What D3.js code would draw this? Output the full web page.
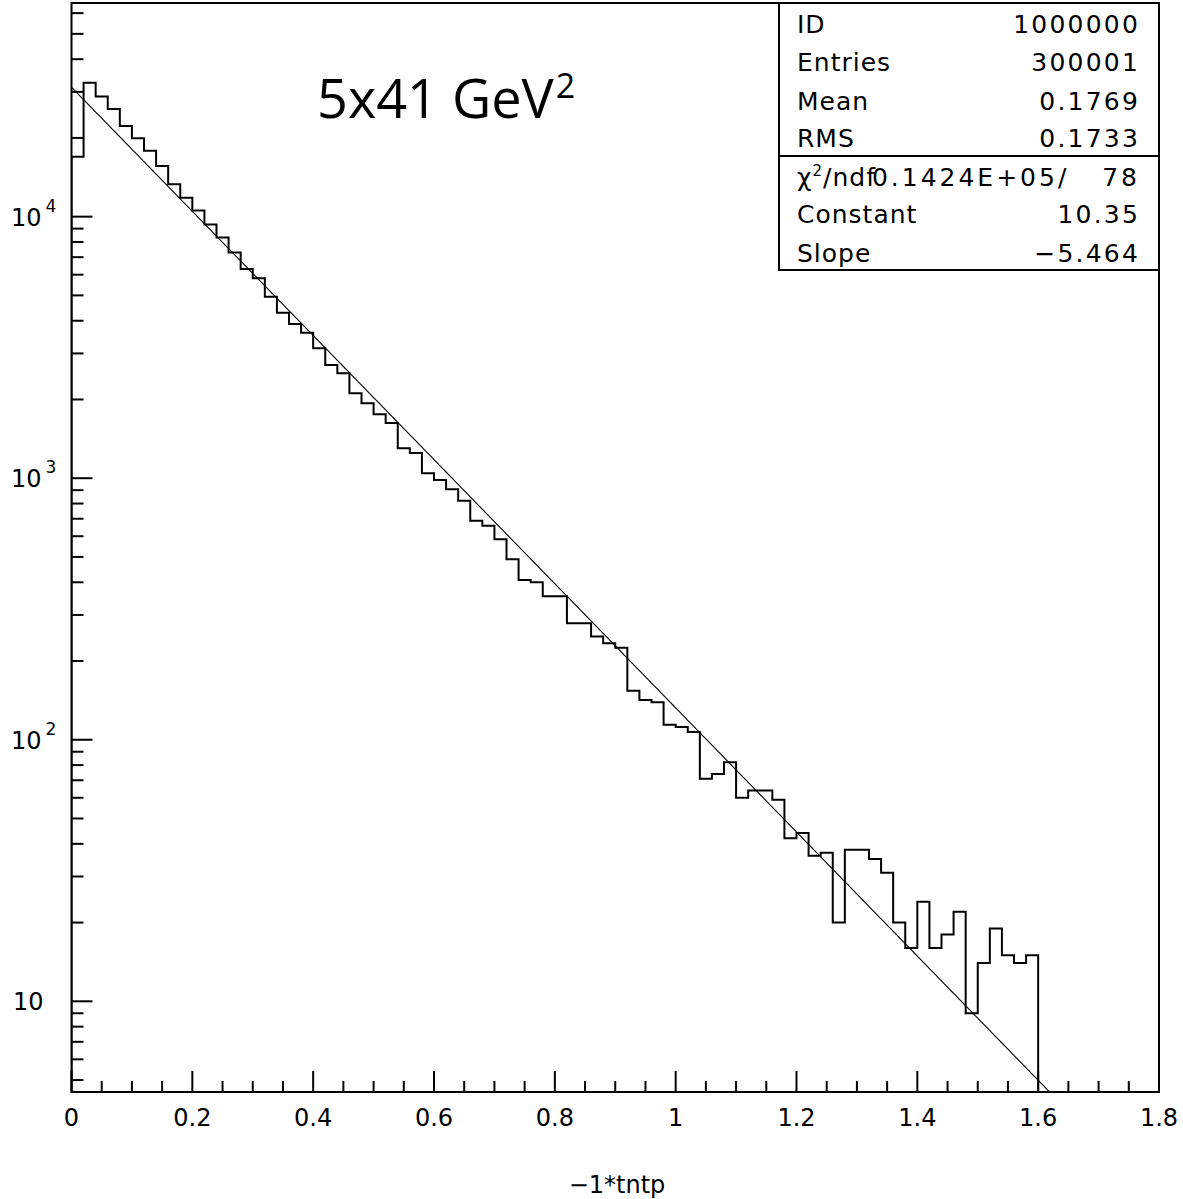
<!DOCTYPE html>
<html>
<head>
<meta charset="utf-8">
<script src="https://cdn.jsdelivr.net/npm/d3@7"></script>
<style>
  html, body { margin: 0; padding: 0; background: #fff; }
  svg { display: block; }
</style>
</head>
<body>
<svg id="chart" width="1183" height="1199"></svg>
<script>
// ---------------- data ----------------
const binLow = 0;
const binWidth = 0.02;
const counts = [
  16960, 32540, 28770, 25820, 22230, 19940, 17880, 15630, 13300, 11820,
  10560, 9340, 8330, 7300, 6310, 5810, 4945, 4295, 3888, 3601,
  3138, 2710, 2518, 2112, 1934, 1757, 1626, 1301, 1249, 1044,
  984, 907, 820, 688, 658, 584, 490, 408, 400, 354,
  354, 279, 279, 248, 234, 225, 154, 142, 139, 114,
  112, 107, 71, 74, 82, 60, 64, 64, 59, 42,
  44, 36, 37, 20, 38, 38, 35, 31, 20, 16,
  24, 16, 18, 22, 9, 14, 19, 15, 14, 15
];
const fitConstant = 10.35;
const fitSlope = -5.464;

const xMajorTicks = [0, 0.2, 0.4, 0.6, 0.8, 1.0, 1.2, 1.4, 1.6, 1.8];
const xTickLabels = ["0", "0.2", "0.4", "0.6", "0.8", "1", "1.2", "1.4", "1.6", "1.8"];
const xMinorTicks = [0.05,0.1,0.15,0.25,0.3,0.35,0.45,0.5,0.55,0.65,0.7,0.75,0.85,0.9,0.95,1.05,1.1,1.15,1.25,1.3,1.35,1.45,1.5,1.55,1.65,1.7,1.75];
const yMajorTicks = [10, 100, 1000, 10000];
const yTickBase = ["10", "10", "10", "10"];
const yTickExp = ["", "2", "3", "4"];
const yMinorTicks = [5,6,7,8,9,20,30,40,50,60,70,80,90,200,300,400,500,600,700,800,900,2000,3000,4000,5000,6000,7000,8000,9000,20000,30000,40000,50000,60000];

const statLabels = ["ID", "Entries", "Mean", "RMS"];
const statValues = ["1000000", "300001", "0.1769", "0.1733"];
const fitLabels = ["chi", "Constant", "Slope"];
const fitValues = ["0.1424E+05/   78", "10.35", "\u22125.464"];

const xTitle = "\u22121*tntp";
const plotTitle = "5x41 GeV";
const plotTitleSup = "2";

// ---------------- layout ----------------
const L = 71.5, R = 1159, T = 3, B = 1092;
const svg = d3.select("#chart");

const x = d3.scaleLinear().domain([0, 1.8]).range([L, R]);
const y = d3.scaleLog().domain([4.5, 65600]).range([B, T]);

const tickFont = "'DejaVu Sans', sans-serif";

// clip
svg.append("defs").append("clipPath").attr("id", "plotclip")
  .append("rect").attr("x", L).attr("y", T).attr("width", R - L).attr("height", B - T);

// histogram
const pts = [[binLow, 4.5]];
counts.forEach((c, i) => {
  const x0 = binLow + i * binWidth, x1 = binLow + (i + 1) * binWidth;
  pts.push([x0, c]); pts.push([x1, c]);
});
pts.push([binLow + counts.length * binWidth, 4.5]);

svg.append("path")
  .attr("d", d3.line().x(d => x(d[0])).y(d => y(d[1]))(pts))
  .attr("fill", "none").attr("stroke", "#000").attr("stroke-width", 2)
  .attr("clip-path", "url(#plotclip)");

// fit line
const fitPts = d3.range(0, 1.64, 0.005).map(v => [v, Math.exp(fitConstant + fitSlope * v)]);
svg.append("path")
  .attr("d", d3.line().x(d => x(d[0])).y(d => y(d[1]))(fitPts))
  .attr("fill", "none").attr("stroke", "#000").attr("stroke-width", 1.1)
  .attr("clip-path", "url(#plotclip)");

// frame
svg.append("rect").attr("x", L).attr("y", T).attr("width", R - L).attr("height", B - T)
  .attr("fill", "none").attr("stroke", "#000").attr("stroke-width", 2);

// x axis ticks
const xa = svg.append("g").attr("stroke", "#000").attr("stroke-width", 2);
xMajorTicks.forEach(v => {
  xa.append("line").attr("x1", x(v)).attr("x2", x(v)).attr("y1", B).attr("y2", B - 21);
});
xMinorTicks.forEach(v => {
  xa.append("line").attr("x1", x(v)).attr("x2", x(v)).attr("y1", B).attr("y2", B - 11);
});
svg.append("g").selectAll("text").data(xMajorTicks).join("text")
  .attr("x", d => x(d)).attr("y", B + 34)
  .attr("text-anchor", "middle")
  .attr("font-family", tickFont).attr("font-size", 24)
  .text((d, i) => xTickLabels[i]);

// y axis ticks
const ya = svg.append("g").attr("stroke", "#000").attr("stroke-width", 2);
yMajorTicks.forEach(v => {
  ya.append("line").attr("x1", L).attr("x2", L + 21).attr("y1", y(v)).attr("y2", y(v));
});
yMinorTicks.forEach(v => {
  ya.append("line").attr("x1", L).attr("x2", L + 12).attr("y1", y(v)).attr("y2", y(v));
});
yMajorTicks.forEach((v, i) => {
  const t = svg.append("text")
    .attr("font-family", tickFont).attr("font-size", 24)
    .attr("y", y(v) + 9);
  if (yTickExp[i]) {
    t.attr("x", 11);
    t.append("tspan").text(yTickBase[i]);
    t.append("tspan").attr("dx", 4).attr("dy", -14).attr("font-size", 17).text(yTickExp[i]);
  } else {
    t.attr("x", 13).text(yTickBase[i]);
  }
});

// axis title
svg.append("text").attr("x", 617).attr("y", 1193).attr("text-anchor", "middle")
  .attr("font-family", tickFont).attr("font-size", 24).text(xTitle);

// plot title
const tt = svg.append("text").attr("x", 317).attr("y", 118)
  .attr("font-family", "'Open Sans', sans-serif").attr("font-size", 54).attr("fill", "#000");
tt.append("tspan").text(plotTitle);
tt.append("tspan").attr("dx", 2).attr("dy", -20).attr("font-size", 34).text(plotTitleSup);

// stats box
const bx0 = 779, bx1 = R, by0 = T, byDiv = 156, by1 = 270;
svg.append("rect").attr("x", bx0).attr("y", by0).attr("width", bx1 - bx0).attr("height", by1 - by0)
  .attr("fill", "#fff").attr("stroke", "#000").attr("stroke-width", 2);
svg.append("line").attr("x1", bx0).attr("x2", bx1).attr("y1", byDiv).attr("y2", byDiv)
  .attr("stroke", "#000").attr("stroke-width", 2);

const statFont = "'DejaVu Sans', sans-serif";
const rowY1 = [33, 71, 110, 147];
const rowY2 = [186, 223, 262];
statLabels.forEach((s, i) => {
  svg.append("text").attr("x", 797).attr("y", rowY1[i]).attr("font-family", statFont)
    .attr("font-size", 25).attr("letter-spacing", 1).text(s);
  svg.append("text").attr("x", 1140).attr("y", rowY1[i]).attr("text-anchor", "end")
    .attr("font-family", statFont).attr("font-size", 25).attr("letter-spacing", 2.2).text(statValues[i]);
});
fitLabels.forEach((s, i) => {
  const t = svg.append("text").attr("x", 797).attr("y", rowY2[i]).attr("font-family", statFont)
    .attr("font-size", 25).attr("letter-spacing", 1);
  if (s === "chi") {
    t.append("tspan").text("\u03c7");
    t.append("tspan").attr("dy", -10).attr("font-size", 15).text("2");
    t.append("tspan").attr("dy", 10).text("/ndf");
  } else {
    t.text(s);
  }
  svg.append("text").attr("x", 1140).attr("y", rowY2[i]).attr("text-anchor", "end")
    .attr("font-family", statFont).attr("font-size", 25)
    .attr("letter-spacing", i === 0 ? 3 : 2.2)
    .attr("xml:space", "preserve").style("white-space", "pre").text(fitValues[i]);
});
</script>
</body>
</html>
